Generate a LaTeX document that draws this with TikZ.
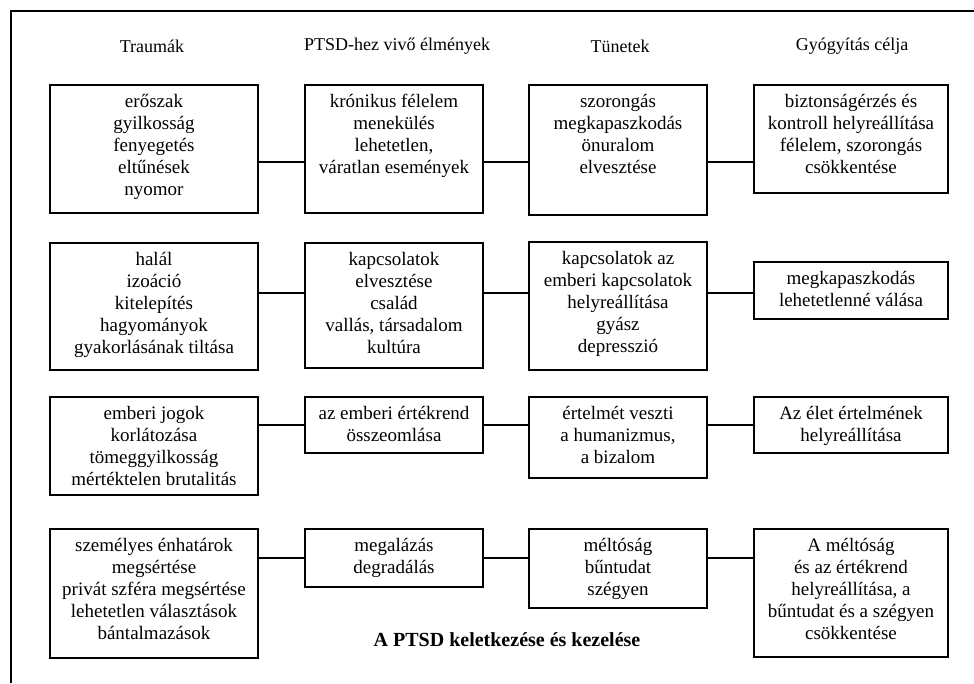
\documentclass[tikz,border=0pt]{standalone}
\usepackage{fontspec}
\setmainfont{Liberation Serif}
\newcommand{\mybox}[3]{\parbox[c][#2][t]{#1}{\centering\fontsize{19}{22}\selectfont\rule{0pt}{22pt}#3\par}}
\tikzset{
  cell/.style={draw, line width=1.3pt, inner sep=0pt},
  head/.style={font=\fontsize{18}{20}\selectfont, inner sep=0pt},
  link/.style={line width=1.3pt},
  frame/.style={line width=1.6pt}
}
\begin{document}
\begin{tikzpicture}[x=1pt,y=-1pt]
\useasboundingbox (0,0) rectangle (974,683);
% frame
\coordinate (f1) at (974,11);
\coordinate (f2) at (11,11);
\coordinate (f3) at (11,683);
\draw[frame] (f1) -- (f2) -- (f3);
% headers
\node[head] (h1) at (152,46) {Traumák};
\node[head] (h2) at (397,46) {PTSD-hez vivő élmények};
\node[head] (h3) at (620,46) {Tünetek};
\node[head] (h4) at (852,46) {Gyógyítás célja};
% row 1
\node[cell] (a1) at (154,149) {\mybox{208pt}{128pt}{erőszak\\gyilkosság\\fenyegetés\\eltűnések\\nyomor}};
\node[cell] (b1) at (394,149) {\mybox{178pt}{128pt}{krónikus félelem\\menekülés\\lehetetlen,\\váratlan események}};
\node[cell] (c1) at (618,150) {\mybox{178pt}{130pt}{szorongás\\megkapaszkodás\\önuralom\\elvesztése}};
\node[cell] (d1) at (851,139) {\mybox{194pt}{108pt}{biztonságérzés és\\kontroll helyreállítása\\félelem, szorongás\\csökkentése}};
\coordinate (r1) at (0,162);
% row 2
\node[cell] (a2) at (154,306.5) {\mybox{208pt}{127pt}{halál\\izoáció\\kitelepítés\\hagyományok\\gyakorlásának tiltása}};
\node[cell] (b2) at (394,305.5) {\mybox{178pt}{125pt}{kapcsolatok\\elvesztése\\család\\vallás, társadalom\\kultúra}};
\node[cell] (c2) at (618,306) {\mybox{178pt}{128pt}{kapcsolatok az\\emberi kapcsolatok\\helyreállítása\\gyász\\depresszió}};
\node[cell] (d2) at (851,290.5) {\mybox{194pt}{57pt}{megkapaszkodás\\lehetetlenné válása}};
\coordinate (r2) at (0,293);
% row 3
\node[cell] (a3) at (154,446) {\mybox{208pt}{98pt}{emberi jogok\\korlátozása\\tömeggyilkosság\\mértéktelen brutalitás}};
\node[cell] (b3) at (394,425) {\mybox{178pt}{56pt}{az emberi értékrend\\összeomlása}};
\node[cell] (c3) at (618,437.5) {\mybox{178pt}{81pt}{értelmét veszti\\a humanizmus,\\a bizalom}};
\node[cell] (d3) at (851,425) {\mybox{194pt}{56pt}{Az élet értelmének\\helyreállítása}};
\coordinate (r3) at (0,425);
% row 4
\node[cell] (a4) at (154,593.5) {\mybox{208pt}{129pt}{személyes énhatárok\\megsértése\\privát szféra megsértése\\lehetetlen választások\\bántalmazások}};
\node[cell] (b4) at (394,558) {\mybox{178pt}{58pt}{megalázás\\degradálás}};
\node[cell] (c4) at (618,568.5) {\mybox{178pt}{79pt}{méltóság\\bűntudat\\szégyen}};
\node[cell] (d4) at (851,593) {\mybox{194pt}{128pt}{A méltóság\\és az értékrend\\helyreállítása, a\\bűntudat és a szégyen\\csökkentése}};
\coordinate (r4) at (0,558);
% connectors
\foreach \r in {1,2,3,4}{
  \draw[link] (a\r.east |- r\r) -- (b\r.west |- r\r);
  \draw[link] (b\r.east |- r\r) -- (c\r.west |- r\r);
  \draw[link] (c\r.east |- r\r) -- (d\r.west |- r\r);
}
% title
\node[font=\bfseries\fontsize{20}{22}\selectfont, inner sep=0pt] (title) at (507,640) {A PTSD keletkezése és kezelése};
\end{tikzpicture}
\end{document}
